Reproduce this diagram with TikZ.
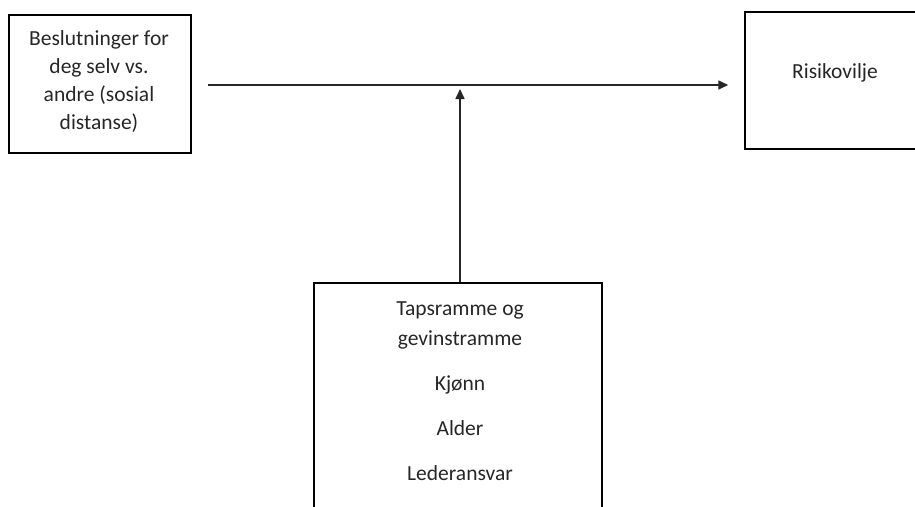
\documentclass[tikz,border=0pt]{standalone}
\usepackage{fontspec}
\setmainfont{Carlito}
\usetikzlibrary{arrows.meta}
\begin{document}
\begin{tikzpicture}[x=1pt,y=-1pt,
  box/.style={draw=black,line width=1.5pt,inner sep=0pt},
  lbl/.style={font=\fontsize{21.5}{28}\selectfont,text=black!85,align=center,inner sep=0pt},
  conn/.style={draw=black!85,line width=1.6pt,-{Triangle[length=10pt,width=9pt]}}]
\useasboundingbox (0,0) rectangle (915,506);
\clip (0,0) rectangle (915,506);
\node[box,minimum width=182pt,minimum height=138pt] (left) at (100,84) {};
\node[lbl] (lefttext) at (99,82) {Beslutninger for\\deg selv vs.\\andre (sosial\\distanse)};
\node[box,minimum width=190pt,minimum height=137pt] (right) at (840,80.5) {};
\node[lbl] (righttext) at (835,73) {Risikovilje};
\node[box,minimum width=288pt,minimum height=250pt] (bottom) at (458,408) {};
\node[lbl,font=\fontsize{21.5}{30}\selectfont] (bottomtext) at (460,391) {Tapsramme og\\gevinstramme\\[15pt]Kjønn\\[15pt]Alder\\[15pt]Lederansvar};
\coordinate (mid) at (460,85);
\draw[conn,shorten <=16pt,shorten >=16pt] (left.east |- mid) -- (right.west |- mid);
\draw[conn,shorten >=4pt] (bottom.north -| mid) -- (mid);
\end{tikzpicture}
\end{document}
